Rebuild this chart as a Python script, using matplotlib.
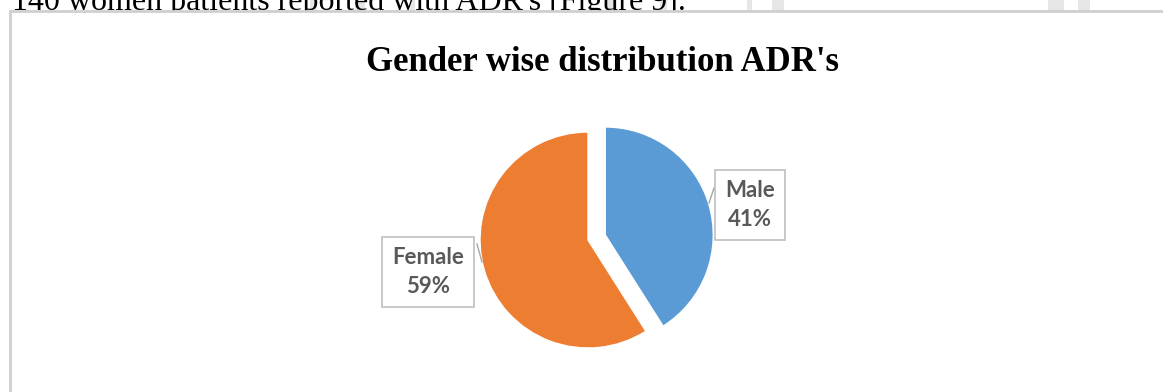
import matplotlib.pyplot as plt
from matplotlib.patches import Rectangle

# ── Data ─────────────────────────────────────────────────────────────────────
genders = ["Male", "Female"]
shares = [41, 59]
colors = ["#5B9BD5", "#ED7D31"]
title = "Gender wise distribution ADR's"
body_text = "140 women patients reported with ADR's [Figure 9]."

W, H = 1163, 392
fig = plt.figure(figsize=(W / 100, H / 100), dpi=100)
ax = fig.add_axes([0, 0, 1, 1])

# ── Pie ──────────────────────────────────────────────────────────────────────
# explode is given in data units here because the pie is drawn in pixel space
cx, cy, r = 588, H - 240, 108
wedges, _ = ax.pie(shares, colors=colors, startangle=90, counterclock=False,
                   explode=[18, 0], center=(cx, cy), radius=r,
                   wedgeprops=dict(edgecolor="white", linewidth=1))
for w in wedges:
    w.set_zorder(3)

ax.set_xlim(0, W)
ax.set_ylim(0, H)
ax.set_aspect("equal")
ax.axis("off")

# line of body text above the chart frame (partly hidden by the frame)
ax.text(12, H - 10, body_text, fontsize=23, family="Liberation Serif",
        va="baseline", ha="left", color="black", zorder=1)

# faint watermark strokes behind the page text
for x0, w in [(310, 7), (355, 10), (410, 5), (607, 10), (660, 7),
              (747, 5), (772, 12), (1048, 16), (1078, 12)]:
    ax.add_patch(Rectangle((x0, H - 11), w, 11, facecolor="#e6e6e6",
                           edgecolor="none", zorder=0))

# chart frame
ax.add_patch(Rectangle((10, -20), W + 20, H - 11 + 20, facecolor="white",
                       edgecolor="#cfcfcf", linewidth=2, zorder=2))

ax.text(603, H - 71, title, fontsize=25, family="Liberation Serif",
        fontweight="bold", ha="center", va="baseline", zorder=3)

# data labels with leader lines
label_pos = {"Male": (750, H - 205), "Female": (428, H - 272)}
leader = {"Male": ((714, H - 188), (709, H - 203)),
          "Female": ((477, H - 244), (482, H - 262))}
for name, val in zip(genders, shares):
    (x1, y1), (x2, y2) = leader[name]
    ax.plot([x1, x2], [y1, y2], color="#a6a6a6", lw=1, zorder=4)
    ax.text(*label_pos[name], f"{name}\n{val}%", fontsize=16, family="Lato",
            fontweight="bold", color="#595959", ha="center", va="center",
            multialignment="center", linespacing=1.45, zorder=5,
            bbox=dict(boxstyle="square,pad=0.45", facecolor="white",
                      edgecolor="#bfbfbf", linewidth=1.2))

fig.savefig("out.png", dpi=100, facecolor="white")
